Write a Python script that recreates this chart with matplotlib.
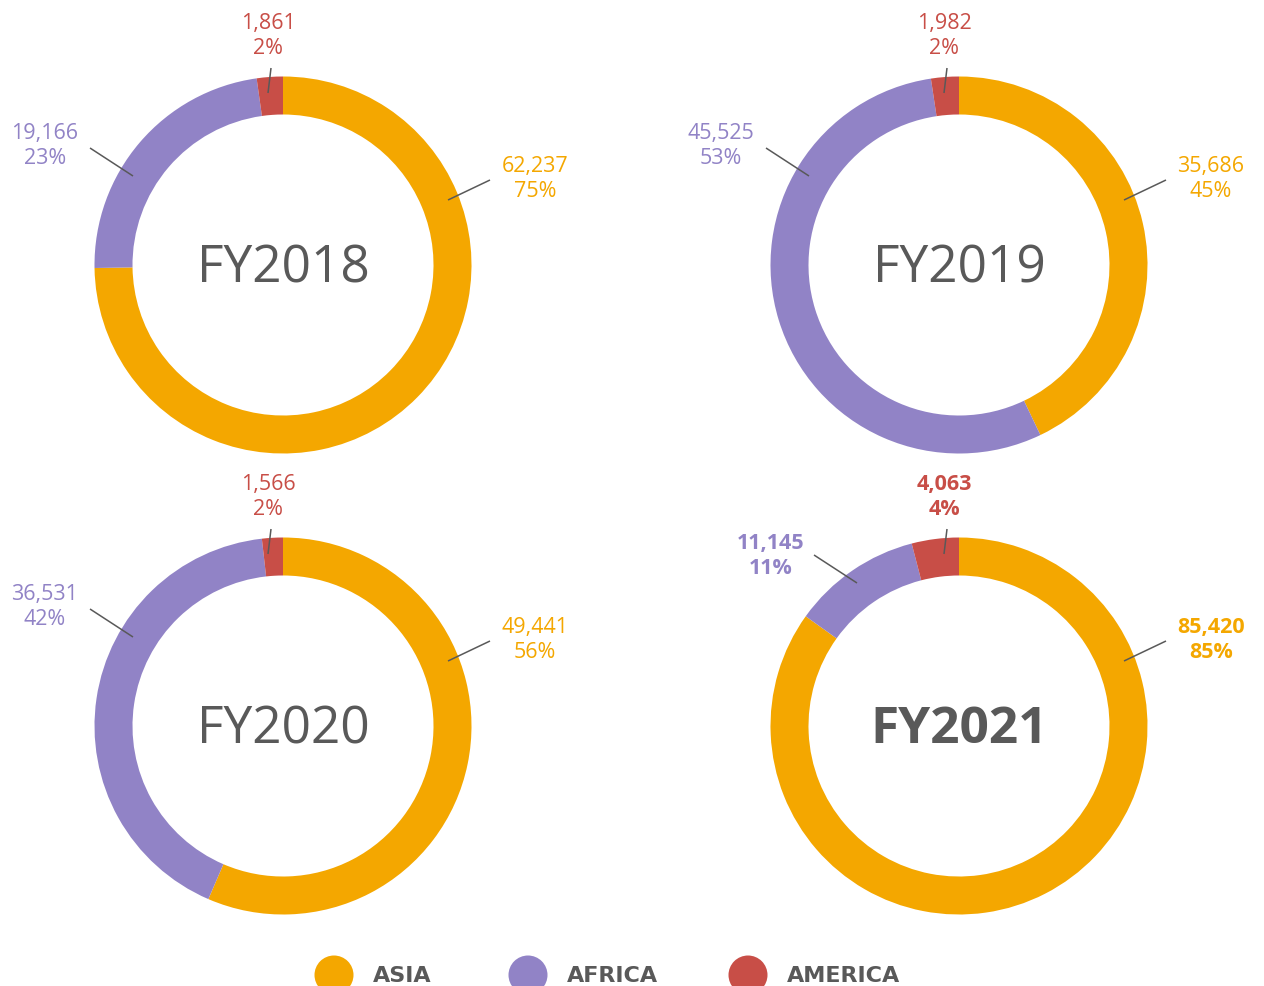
import matplotlib.pyplot as plt
from matplotlib.patches import Circle

# data
years = ['FY2018', 'FY2019', 'FY2020', 'FY2021']
regions = ['ASIA', 'AFRICA', 'AMERICA']
asia = [62237, 35686, 49441, 85420]
africa = [19166, 45525, 36531, 11145]
america = [1861, 1982, 1566, 4063]
asia_pct = ['75%', '45%', '56%', '85%']
africa_pct = ['23%', '53%', '42%', '11%']
america_pct = ['2%', '2%', '2%', '4%']

colors = ['#F4A700', '#9183C6', '#C84E47']
grey = '#595959'
W, H = 1264, 986

# donut centres in pixels (image coords, y down)
centres = [(283, 265), (959, 265), (283, 726), (959, 726)]
R = 188.5
ring = 38

fig = plt.figure(figsize=(W / 100, H / 100), dpi=100)
ax = fig.add_axes([0, 0, 1, 1])
plt.rcParams['font.family'] = ['Open Sans', 'DejaVu Sans']


def txt(x, y, s, **kw):
    ax.text(x, H - y, s, ha='center', va='center', **kw)


def line(x0, y0, x1, y1):
    ax.plot([x0, x1], [H - y0, H - y1], color=grey, lw=1.1, solid_capstyle='butt')


for i, yr in enumerate(years):
    cx, cy = centres[i]
    vals = [asia[i], africa[i], america[i]]
    ax.pie(vals, colors=colors, startangle=90, counterclock=False,
           center=(cx, H - cy), radius=R,
           wedgeprops=dict(width=ring, edgecolor='none'))
    bold = (yr == 'FY2021')
    fw = 'bold' if bold else 'normal'

    txt(cx, cy + 4, yr, fontsize=37, color=grey, fontweight=fw)

    lab = dict(fontsize=15.5, fontweight=fw, linespacing=1.3)
    # America label (top)
    txt(cx - 15, cy - 229, f'{america[i]:,}\n{america_pct[i]}', color=colors[2], **lab)
    line(cx - 12, cy - 197, cx - 15, cy - 172)

    # Asia label (right)
    txt(cx + 252, cy - 86, f'{asia[i]:,}\n{asia_pct[i]}', color=colors[0], **lab)
    line(cx + 207, cy - 85, cx + 165, cy - 65)

    # Africa label (left)
    if bold:
        txt(cx - 188, cy - 170, f'{africa[i]:,}\n{africa_pct[i]}', color=colors[1], **lab)
        line(cx - 145, cy - 171, cx - 102, cy - 143)
    else:
        txt(cx - 238, cy - 119, f'{africa[i]:,}\n{africa_pct[i]}', color=colors[1], **lab)
        line(cx - 193, cy - 117, cx - 150, cy - 89)

# legend along the bottom edge
leg_x = [334, 528, 748]
for x, name, c in zip(leg_x, regions, colors):
    ax.add_patch(Circle((x, H - 975), 19.5, color=c, lw=0))
    ax.text(x + 39, H - 976, name, ha='left', va='center', fontsize=16,
            fontweight='bold', color=grey, family=['DejaVu Sans'])

ax.set_xlim(0, W)
ax.set_ylim(0, H)
ax.set_aspect('equal')
ax.axis('off')

fig.savefig('out.png', dpi=100)
